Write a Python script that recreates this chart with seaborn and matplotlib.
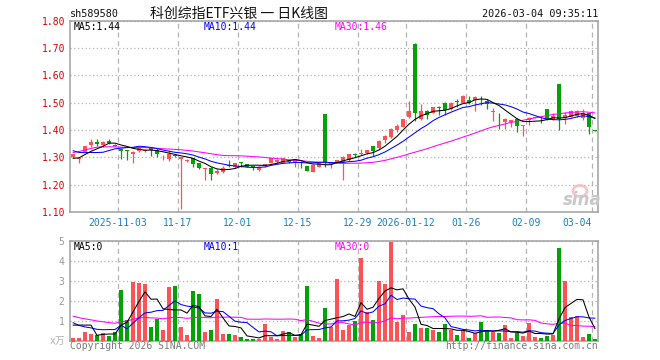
import numpy as np
import pandas as pd
import matplotlib
matplotlib.use("Agg")
import matplotlib.pyplot as plt
import seaborn as sns
from matplotlib.patches import Ellipse

# ---------------- data ----------------
dates = [
    "2025-10-22", "2025-10-23", "2025-10-24", "2025-10-27", "2025-10-28", "2025-10-29", "2025-10-30", "2025-10-31",
    "2025-11-03", "2025-11-04", "2025-11-05", "2025-11-06", "2025-11-07", "2025-11-10", "2025-11-11", "2025-11-12",
    "2025-11-13", "2025-11-14", "2025-11-17", "2025-11-18", "2025-11-19", "2025-11-20", "2025-11-21", "2025-11-24",
    "2025-11-25", "2025-11-26", "2025-11-27", "2025-11-28", "2025-12-01", "2025-12-02", "2025-12-03", "2025-12-04",
    "2025-12-05", "2025-12-08", "2025-12-09", "2025-12-10", "2025-12-11", "2025-12-12", "2025-12-15", "2025-12-16",
    "2025-12-17", "2025-12-18", "2025-12-19", "2025-12-22", "2025-12-23", "2025-12-24", "2025-12-25", "2025-12-26",
    "2025-12-29", "2025-12-30", "2025-12-31", "2026-01-05", "2026-01-06", "2026-01-07", "2026-01-08", "2026-01-09",
    "2026-01-12", "2026-01-13", "2026-01-14", "2026-01-15", "2026-01-16", "2026-01-19", "2026-01-20", "2026-01-21",
    "2026-01-22", "2026-01-23", "2026-01-26", "2026-01-27", "2026-01-28", "2026-01-29", "2026-01-30", "2026-02-02",
    "2026-02-03", "2026-02-04", "2026-02-05", "2026-02-06", "2026-02-09", "2026-02-10", "2026-02-11", "2026-02-12",
    "2026-02-13", "2026-02-24", "2026-02-25", "2026-02-26", "2026-02-27", "2026-03-02", "2026-03-03", "2026-03-04",
]

opens = [1.300, 1.295, 1.321, 1.345, 1.356, 1.345, 1.361, 1.345, 1.329, 1.325,
         1.312, 1.324, 1.322, 1.335, 1.327, 1.300, 1.293, 1.309, 1.293, 1.287,
         1.296, 1.278, 1.256, 1.262, 1.241, 1.248, 1.270, 1.263, 1.282, 1.276,
         1.267, 1.254, 1.268, 1.280, 1.283, 1.280, 1.284, 1.278, 1.284, 1.268,
         1.247, 1.266, 1.459, 1.275, 1.280, 1.284, 1.290, 1.310, 1.313, 1.314,
         1.341, 1.333, 1.363, 1.373, 1.400, 1.412, 1.446, 1.715, 1.439, 1.470,
         1.463, 1.483, 1.500, 1.476, 1.505, 1.498, 1.510, 1.510, 1.518, 1.504,
         1.465, 1.448, 1.430, 1.428, 1.440, 1.414, 1.437, 1.445, 1.444, 1.477,
         1.437, 1.568, 1.443, 1.449, 1.451, 1.443, 1.461, 1.398]
highs = [1.313, 1.298, 1.343, 1.367, 1.367, 1.361, 1.366, 1.347, 1.329, 1.326,
         1.322, 1.338, 1.330, 1.339, 1.333, 1.308, 1.327, 1.310, 1.302, 1.293,
         1.298, 1.280, 1.262, 1.263, 1.256, 1.268, 1.290, 1.280, 1.284, 1.277,
         1.268, 1.268, 1.276, 1.298, 1.292, 1.298, 1.288, 1.294, 1.286, 1.269,
         1.273, 1.283, 1.460, 1.284, 1.291, 1.303, 1.313, 1.317, 1.330, 1.328,
         1.342, 1.362, 1.380, 1.406, 1.422, 1.441, 1.504, 1.716, 1.495, 1.472,
         1.485, 1.488, 1.501, 1.501, 1.512, 1.526, 1.525, 1.525, 1.524, 1.512,
         1.479, 1.461, 1.442, 1.437, 1.442, 1.418, 1.446, 1.449, 1.446, 1.478,
         1.461, 1.569, 1.467, 1.472, 1.472, 1.476, 1.462, 1.398]
lows = [1.298, 1.280, 1.318, 1.339, 1.341, 1.339, 1.349, 1.340, 1.294, 1.290,
        1.278, 1.318, 1.318, 1.305, 1.302, 1.290, 1.288, 1.300, 1.112, 1.284,
        1.266, 1.258, 1.216, 1.216, 1.239, 1.244, 1.263, 1.260, 1.265, 1.263,
        1.254, 1.250, 1.266, 1.278, 1.280, 1.278, 1.280, 1.266, 1.260, 1.250,
        1.245, 1.264, 1.263, 1.262, 1.278, 1.216, 1.288, 1.300, 1.307, 1.312,
        1.305, 1.331, 1.354, 1.372, 1.394, 1.410, 1.444, 1.434, 1.437, 1.439,
        1.462, 1.454, 1.454, 1.474, 1.485, 1.497, 1.495, 1.471, 1.492, 1.477,
        1.434, 1.404, 1.404, 1.410, 1.394, 1.378, 1.418, 1.443, 1.426, 1.437,
        1.436, 1.400, 1.422, 1.447, 1.449, 1.437, 1.385, 1.397]
closes = [1.312, 1.297, 1.342, 1.357, 1.348, 1.357, 1.354, 1.343, 1.323, 1.322,
          1.321, 1.337, 1.326, 1.326, 1.311, 1.301, 1.312, 1.303, 1.300, 1.290,
          1.276, 1.261, 1.261, 1.239, 1.251, 1.260, 1.267, 1.278, 1.280, 1.266,
          1.265, 1.266, 1.274, 1.296, 1.290, 1.297, 1.283, 1.293, 1.278, 1.251,
          1.272, 1.282, 1.280, 1.280, 1.290, 1.302, 1.312, 1.308, 1.315, 1.326,
          1.324, 1.361, 1.376, 1.405, 1.416, 1.439, 1.470, 1.463, 1.470, 1.454,
          1.483, 1.480, 1.473, 1.500, 1.503, 1.525, 1.500, 1.522, 1.516, 1.495,
          1.467, 1.446, 1.440, 1.436, 1.416, 1.416, 1.445, 1.447, 1.442, 1.439,
          1.450, 1.439, 1.455, 1.471, 1.471, 1.461, 1.409, 1.397]
volumes = [0.15, 0.15, 0.43, 0.33, 0.28, 0.40, 0.23, 0.43, 2.53, 1.03,
           2.95, 2.88, 2.83, 0.68, 1.07, 0.53, 2.68, 2.73, 0.68, 0.28,
           2.48, 2.33, 0.43, 0.53, 2.08, 0.33, 0.33, 0.28, 0.18, 0.08,
           0.08, 0.08, 0.83, 0.18, 0.08, 0.48, 0.43, 0.18, 0.33, 2.73,
           0.23, 0.13, 1.63, 0.67, 3.08, 0.53, 0.78, 1.00, 4.13, 1.42,
           1.03, 3.00, 2.83, 4.93, 0.93, 1.28, 0.43, 0.83, 0.63, 0.63,
           0.53, 0.43, 0.83, 0.53, 0.28, 0.53, 0.13, 0.38, 0.93, 0.48,
           0.43, 0.38, 0.78, 0.13, 0.38, 0.23, 0.88, 0.18, 0.13, 0.23,
           0.28, 4.63, 3.00, 1.18, 1.23, 0.18, 0.33, 0.08]

# earlier sessions (off-screen), estimated only to warm up the moving averages
prev_closes = [1.17, 1.18, 1.19, 1.20,
               1.33, 1.34, 1.35, 1.36, 1.35, 1.34, 1.33, 1.34, 1.35, 1.36, 1.35, 1.34, 1.34, 1.35, 1.35, 1.35,
               1.36, 1.35, 1.35, 1.35, 1.348,
               1.29, 1.28, 1.30, 1.30]
prev_volumes = [2.5, 2.2, 1.8, 2.0, 1.6, 1.5, 1.45,
                0.1, 0.15, 0.1,
                1.2, 1.8, 1.5, 1.3, 1.6, 1.4, 1.7, 1.2, 1.4, 1.4,
                1.5, 1.2, 0.8, 1.0, 0.6,
                0.15, 0.43, 0.33, 2.84]

tick_dates = ["2025-11-03", "2025-11-17", "2025-12-01", "2025-12-15", "2025-12-29",
              "2026-01-12", "2026-01-26", "2026-02-09", "2026-03-04"]
tick_labels = ["2025-11-03", "11-17", "12-01", "12-15", "12-29",
               "2026-01-12", "01-26", "02-09", "03-04"]
price_ticks = [1.10, 1.20, 1.30, 1.40, 1.50, 1.60, 1.70, 1.80]
vol_ticks = [1, 2, 3, 4, 5]

code = "sh589580"
title = "科创综指ETF兴银 一 日K线图"
stamp = "2026-03-04 09:35:11"
price_legend = [("MA5:1.44", "#000000"), ("MA10:1.44", "#0000FF"), ("MA30:1.46", "#FF00FF")]
vol_legend = [("MA5:0", "#000000"), ("MA10:1", "#0000FF"), ("MA30:0", "#FF00FF")]

# ---------------- derived ----------------
n = len(dates)
idx = np.arange(n)
df = pd.DataFrame({"i": idx, "date": dates, "open": opens, "high": highs,
                   "low": lows, "close": closes, "vol": volumes})
allc = pd.Series(prev_closes + closes)
allv = pd.Series(prev_volumes + volumes)
k = len(prev_closes)
for w in (5, 10, 30):
    df[f"ma{w}"] = allc.rolling(w).mean().iloc[k:].to_numpy()
    df[f"vma{w}"] = allv.rolling(w).mean().iloc[k:].to_numpy()

UP = "#FF5353"
DOWN = "#00A400"
df["col"] = np.where(df["close"] >= df["open"], UP, DOWN)

sns.set_style("white")
plt.rcParams["font.family"] = ["DejaVu Sans Mono", "Noto Sans CJK SC"]
MONO = "DejaVu Sans Mono"
FS = 7
LW = 0.75

W, H = 660, 360
fig = plt.figure(figsize=(W / 100, H / 100), dpi=100)


def ax_rect(x0, y0, x1, y1):
    return [x0 / W, 1 - y1 / H, (x1 - x0) / W, (y1 - y0) / H]


ax = fig.add_axes(ax_rect(70, 20.5, 598, 212))
axv = fig.add_axes(ax_rect(70, 240.7, 598, 340.7))

tick_pos = [dates.index(d) - 0.5 for d in tick_dates]
GRID = "#B4B4B4"
SPINE = "#A0A0A0"

for a in (ax, axv):
    a.set_xlim(-0.5, n - 0.5)
    a.set_xticks(tick_pos)
    a.xaxis.grid(True, color=GRID, lw=0.9, ls=(0, (4, 3)))
    a.yaxis.grid(True, color=GRID, lw=0.9, ls=(0, (1, 2)))
    a.set_axisbelow(True)
    for s in a.spines.values():
        s.set_color(SPINE)
        s.set_linewidth(1.1)
    a.tick_params(length=0)

# ---- candles ----
ax.set_ylim(1.10, 1.80)
ax.set_yticks(price_ticks)
ax.set_yticklabels([f"{v:.2f}" for v in price_ticks], color="#E00000",
                   fontfamily=MONO, fontsize=FS)
ax.tick_params(axis="y", pad=3)
ax.vlines(df["i"], df["low"], df["high"], colors=df["col"], lw=0.9, zorder=2)
body_lo = np.minimum(df["open"], df["close"])
body_h = np.maximum(np.abs(df["close"] - df["open"]), 0.0025)
ax.bar(df["i"], body_h, bottom=body_lo, width=0.78, color=df["col"], lw=0, zorder=3)

for col, c in (("ma30", "#FF00FF"), ("ma10", "#0000FF"), ("ma5", "#000000")):
    sns.lineplot(data=df, x="i", y=col, ax=ax, color=c, lw=LW, zorder=4, legend=False)
ax.set_xlabel("")
ax.set_ylabel("")
ax.set_xticklabels(tick_labels, color="#1A7FC4", fontfamily=MONO, fontsize=FS)
ax.tick_params(axis="x", pad=4)
xt = ax.get_xticklabels()
xt[-1].set_ha("right")

# ---- volume ----
axv.set_ylim(0, 5)
axv.set_yticks(vol_ticks)
axv.set_yticklabels([str(v) for v in vol_ticks], color="#9A9A9A",
                    fontfamily=MONO, fontsize=FS)
axv.tick_params(axis="y", pad=4)
axv.set_xticklabels([])
axv.bar(df["i"], df["vol"], width=0.8, color=df["col"], lw=0, zorder=3)
for col, c in (("vma30", "#FF00FF"), ("vma10", "#0000FF"), ("vma5", "#000000")):
    sns.lineplot(data=df, x="i", y=col, ax=axv, color=c, lw=LW, zorder=4, legend=False)
axv.set_xlabel("")
axv.set_ylabel("")

# ---- texts ----
def ftext(x, y, s, **kw):
    fig.text(x / W, 1 - y / H, s, **kw)


ftext(70, 14, code, ha="left", va="center", fontsize=FS + 0.3, color="#111111", family=MONO)
ftext(150, 14, title, ha="left", va="center", fontsize=10, color="#111111",
      family=["Noto Sans CJK SC", "DejaVu Sans"])
ftext(598, 14, stamp, ha="right", va="center", fontsize=FS + 0.3, color="#111111", family=MONO)

for (s, c), x in zip(price_legend, (74, 204, 335)):
    ftext(x, 27.5, s, ha="left", va="center", fontsize=FS, color=c, family=MONO)
for (s, c), x in zip(vol_legend, (74, 204, 335)):
    ftext(x, 246.5, s, ha="left", va="center", fontsize=FS, color=c, family=MONO)

ftext(65, 341, "x万", ha="right", va="center", fontsize=FS, color="#B0B0B0",
      family=["DejaVu Sans Mono", "Noto Sans CJK SC"])
ftext(70, 346, "Copyright 2026 SINA.COM", ha="left", va="center", fontsize=FS,
      color="#7A7A7A", family=MONO)
ftext(598, 346, "http://finance.sina.com.cn", ha="right", va="center", fontsize=FS,
      color="#7A7A7A", family=MONO)

# sina watermark
fig.patches.append(Ellipse((580 / W, 1 - 191 / H), 14 / W, 11 / H, transform=fig.transFigure,
                           facecolor="none", edgecolor="#F4B8B8", lw=2.0, alpha=0.8))
ftext(582, 200, "sina", ha="center", va="center", fontsize=12, color="#C8C8C8",
      family="DejaVu Sans", style="italic", weight="bold")

fig.savefig("out.png", dpi=100)
